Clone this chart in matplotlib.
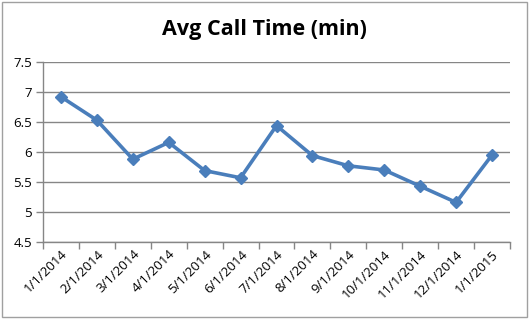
import matplotlib
matplotlib.use("Agg")
import matplotlib.pyplot as plt
from matplotlib.patches import Rectangle

categories = ["1/1/2014", "2/1/2014", "3/1/2014", "4/1/2014", "5/1/2014", "6/1/2014",
              "7/1/2014", "8/1/2014", "9/1/2014", "10/1/2014", "11/1/2014", "12/1/2014", "1/1/2015"]
values = [6.92, 6.53, 5.88, 6.16, 5.69, 5.57, 6.44, 5.94, 5.77, 5.70, 5.43, 5.16, 5.95]
yticks = [4.5, 5, 5.5, 6, 6.5, 7, 7.5]
ytick_labels = ["4.5", "5", "5.5", "6", "6.5", "7", "7.5"]

W, H = 529, 319
fig = plt.figure(figsize=(W / 100, H / 100), dpi=100)
plt.rcParams['font.family'] = ['Open Sans', 'DejaVu Sans']

left, right, top, bottom = 43, 510, 62, 242
ax = fig.add_axes([left / W, 1 - bottom / H, (right - left) / W, (bottom - top) / H])

grid_c = "#868686"
n = len(categories)
x = list(range(n))
ax.plot(x, values, color="#4A7EBB", lw=2.6, marker="D", ms=6.5, mfc="#4A7EBB", mec="#4A7EBB", zorder=3)
ax.set_xlim(-0.5, n - 0.5)
ax.set_ylim(4.5, 7.5)
ax.set_yticks(yticks)
ax.set_yticklabels(ytick_labels, fontsize=9.5)
ax.yaxis.grid(True, color=grid_c, lw=1)
ax.set_axisbelow(True)

ax.set_xticks(x)
ax.set_xticklabels(categories, rotation=45, ha="right", rotation_mode="anchor", fontsize=9.5)
ax.tick_params(axis="x", which="major", length=0, pad=4)
ax.set_xticks([i - 0.5 for i in range(n + 1)], minor=True)
ax.tick_params(axis="x", which="minor", length=5, color=grid_c, width=1)
ax.tick_params(axis="y", length=5, color=grid_c, width=1, pad=3)

for s in ["top", "right"]:
    ax.spines[s].set_visible(False)
for s in ["left", "bottom"]:
    ax.spines[s].set_color(grid_c)
    ax.spines[s].set_linewidth(1)

fig.text(0.5, 1 - 30 / H, "Avg Call Time (min)", ha="center", va="center",
         fontsize=15.5, fontweight="bold")

fig.patches.append(Rectangle((2 / W, 2 / H), (W - 4) / W, (H - 4) / H, transform=fig.transFigure,
                             fill=False, edgecolor="#A0A0A0", lw=1))

fig.savefig("out.png", dpi=100)
